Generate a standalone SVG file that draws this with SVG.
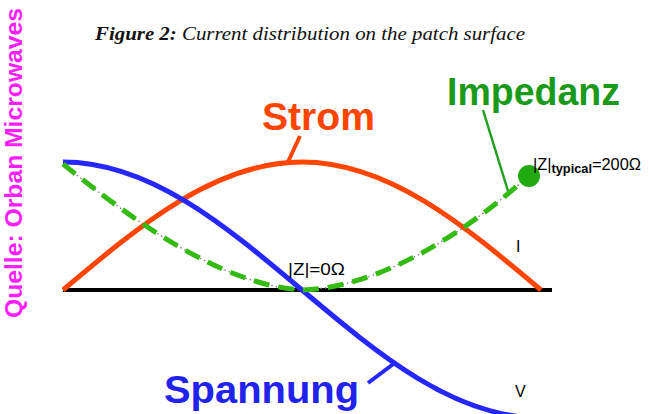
<svg xmlns="http://www.w3.org/2000/svg" width="649" height="414" viewBox="0 0 649 414">
<style>
.curve{fill:none;stroke-linecap:butt;stroke-linejoin:round}
.lbl{font-family:"Liberation Sans",Arial,sans-serif}
.big{font-size:39px;font-weight:bold}
.sm{font-size:16px;fill:#000}
</style>
<rect width="649" height="414" fill="#ffffff"/>
<g id="title">
<text x="95" y="40" font-family="'Liberation Serif','Times New Roman',serif" font-size="19" font-style="italic" fill="#111" textLength="430" lengthAdjust="spacingAndGlyphs"><tspan font-weight="bold">Figure 2:</tspan> Current distribution on the patch surface</text>
</g>
<g id="source">
<text class="lbl" transform="translate(22,318) rotate(-90)" font-size="24" font-weight="bold" fill="#ff1eff" textLength="310" lengthAdjust="spacingAndGlyphs">Quelle: Orban Microwaves</text>
</g>
<g id="axis">
<line x1="63" y1="290" x2="552" y2="290" stroke="#000" stroke-width="4"/>
</g>
<g id="curves">
<path id="impedanz-dots" class="curve" d="M63,164 C130,218 220,285 302,290 C380,288 470,230 528,176" stroke="#888" stroke-width="1.5" stroke-dasharray="1.5 3"/>
<path id="strom-curve" class="curve" d="M63,290 C140.9,224.4 215.5,162 302,162 C388.5,162 463.1,224.4 541,290" stroke="#ff4500" stroke-width="5"/>
<path id="spannung-curve" class="curve" d="M63,162 C149.5,162 224.05,224.4 302,290 C379.95,355.6 454.5,418 541,418" stroke="#2626ff" stroke-width="5"/>
<path id="impedanz-curve" class="curve" d="M63,164 C130,218 220,285 302,290 C380,288 470,230 528,176" stroke="#33bb11" stroke-width="5" stroke-dasharray="16 9"/>
<circle cx="529" cy="176" r="11" fill="#22aa11"/>
</g>
<g id="connectors">
<line x1="300" y1="136" x2="287" y2="164" stroke="#ff4500" stroke-width="4"/>
<line x1="483" y1="110" x2="508" y2="191" stroke="#22a022" stroke-width="2.5"/>
<line x1="368" y1="383" x2="396" y2="362" stroke="#2626ff" stroke-width="4"/>
</g>
<g id="strom-label">
<text class="lbl big" x="262" y="130" fill="#ff4500" textLength="113" lengthAdjust="spacingAndGlyphs">Strom</text>
</g>
<g id="impedanz-label">
<text class="lbl big" x="447" y="105" fill="#1a9a1a" textLength="173" lengthAdjust="spacingAndGlyphs">Impedanz</text>
</g>
<g id="spannung-label">
<text class="lbl big" x="164" y="403" fill="#2222ee" textLength="195" lengthAdjust="spacingAndGlyphs">Spannung</text>
</g>
<g id="z-typical">
<text class="lbl sm" x="533" y="170" font-size="17" textLength="108" lengthAdjust="spacingAndGlyphs">|Z|<tspan font-size="12.5" font-weight="bold" dy="3">typical</tspan><tspan dy="-3">=200Ω</tspan></text>
</g>
<g id="z-zero">
<text class="lbl sm" x="288" y="275" font-size="18" textLength="57" lengthAdjust="spacingAndGlyphs">|Z|=0Ω</text>
</g>
<g id="i-label">
<text class="lbl sm" x="516" y="252" font-size="18">I</text>
</g>
<g id="v-label">
<text class="lbl sm" x="515" y="397" font-size="16">V</text>
</g>
</svg>
